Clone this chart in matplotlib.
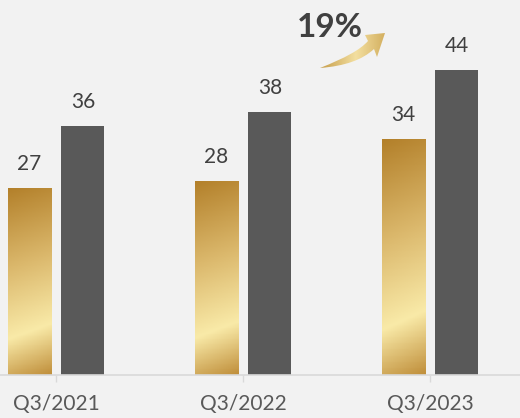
import numpy as np
import matplotlib.pyplot as plt
from matplotlib.colors import LinearSegmentedColormap
from matplotlib.path import Path
from matplotlib.patches import PathPatch

# data
quarters = ['Q3/2021', 'Q3/2022', 'Q3/2023']
gold_vals = [27, 28, 34]
grey_vals = [36, 38, 44]
growth_label = '19%'

plt.rcParams['font.family'] = ['Lato', 'DejaVu Sans']

bg = '#f2f2f2'
gold_cmap = LinearSegmentedColormap.from_list(
    'gold', [(0, '#c08f3b'), (0.25, '#f9eaa8'), (0.6, '#dbb86c'), (1, '#b3802a')])
arrow_cmap = LinearSegmentedColormap.from_list(
    'arrow', [(0, '#c49a45'), (0.55, '#f3dfa0'), (1, '#d2ad5c')])

fig = plt.figure(figsize=(5.2, 4.18), dpi=100, facecolor=bg)
ax = fig.add_axes([0, 43 / 418, 1, 375 / 418])
ax.set_facecolor(bg)

x = np.arange(len(quarters))
w = 0.23
gold_bars = ax.bar(x - 0.142, gold_vals, w, color='none', zorder=2)
grey_bars = ax.bar(x + 0.144, grey_vals, w, color='#595959', zorder=2)

# gradient fill for gold bars
yy, xx = np.mgrid[0:1:200j, 0:1:20j]
grad = yy + 0.08 * (1 - xx)
grad = (grad - grad.min()) / (grad.max() - grad.min())
for rect in gold_bars:
    bx, bw, bh = rect.get_x(), rect.get_width(), rect.get_height()
    im = ax.imshow(grad, extent=[bx, bx + bw, 0, bh], origin='lower',
                   aspect='auto', cmap=gold_cmap, zorder=2)
    im.set_clip_path(rect)

for bars in (gold_bars, grey_bars):
    for rect in bars:
        ax.annotate(f'{rect.get_height():.0f}',
                    (rect.get_x() + rect.get_width() / 2, rect.get_height()),
                    xytext=(0, 10), textcoords='offset points',
                    ha='center', va='bottom', fontsize=15, color='#404040')

ax.set_xlim(-56 / 187, 464 / 187)
ax.set_ylim(0, 375 / 6.93)
ax.set_xticks(x)
ax.set_xticklabels(quarters, fontsize=15, color='#595959')
ax.tick_params(axis='x', length=5, width=1, color='#d9d9d9', pad=9)
ax.set_yticks([])
for s in ['top', 'left', 'right']:
    ax.spines[s].set_visible(False)
ax.spines['bottom'].set_color('#d9d9d9')
ax.spines['bottom'].set_linewidth(1.2)

# overlay in pixel coordinates for the growth arrow
ov = fig.add_axes([0, 0, 1, 1])
ov.set_xlim(0, 520)
ov.set_ylim(418, 0)
ov.axis('off')
ov.patch.set_alpha(0)

verts = [(320, 68),
         (345, 58), (360, 50), (368, 41),
         (365, 35), (385, 33), (377, 57),
         (374, 49),
         (362, 60), (345, 66), (320, 68),
         (320, 68)]
codes = [Path.MOVETO,
         Path.CURVE4, Path.CURVE4, Path.CURVE4,
         Path.LINETO, Path.LINETO, Path.LINETO,
         Path.LINETO,
         Path.CURVE4, Path.CURVE4, Path.CURVE4,
         Path.CLOSEPOLY]
arrow = PathPatch(Path(verts, codes), facecolor='none', edgecolor='none')
ov.add_patch(arrow)
agrad = np.tile(np.linspace(0, 1, 100), (20, 1))
aim = ov.imshow(agrad, extent=[318, 387, 70, 31], cmap=arrow_cmap, aspect='auto')
aim.set_clip_path(arrow)
ov.set_xlim(0, 520)
ov.set_ylim(418, 0)

ov.text(330, 37, growth_label, ha='center', va='baseline',
        fontsize=24, fontweight='bold', color='#404040')

fig.savefig('out.png', dpi=100, facecolor=bg)
